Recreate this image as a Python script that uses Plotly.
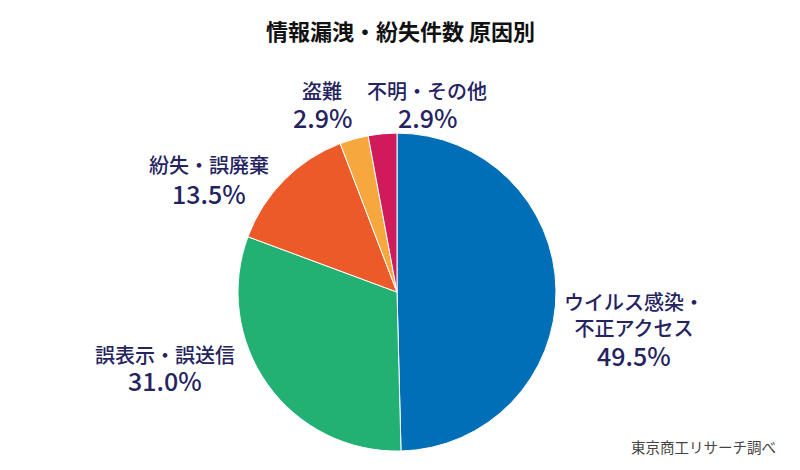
import plotly.graph_objects as go

# 情報漏洩・紛失件数 原因別 (東京商工リサーチ調べ)
causes = ['ウイルス感染・不正アクセス', '誤表示・誤送信', '紛失・誤廃棄', '盗難', '不明・その他']
label_text = ['ウイルス感染・<br>不正アクセス', '誤表示・誤送信', '紛失・誤廃棄', '盗難', '不明・その他']
shares = [49.5, 31.0, 13.5, 2.9, 2.9]
colors = ['#006FB8', '#23B073', '#EB5A28', '#F6A83E', '#CF1A5B']

# label positions (paper coords): name centre and percent centre
label_x = [0.7925, 0.206, 0.261, 0.4025, 0.534]
name_y = [0.3298, 0.2447, 0.649, 0.8085, 0.8085]
pct_y = [0.2447, 0.1915, 0.5894, 0.751, 0.751]

font_jp = 'Noto Sans CJK JP'
navy = '#25235F'

fig = go.Figure()
fig.add_trace(go.Pie(
    labels=causes,
    values=shares,
    sort=False,
    direction='clockwise',
    rotation=0,
    marker=dict(colors=colors, line=dict(color='white', width=1)),
    textinfo='none',
    hoverinfo='label+value',
    showlegend=False,
    domain=dict(x=[0.2975, 0.695], y=[0.040, 0.717]),
))

for name, val, x, ny, py in zip(label_text, shares, label_x, name_y, pct_y):
    fig.add_annotation(
        x=x, y=ny, xref='paper', yref='paper',
        xanchor='center', yanchor='middle',
        text=name, showarrow=False, align='center',
        font=dict(family=font_jp, size=20, color=navy, weight=500),
    )
    fig.add_annotation(
        x=x, y=py, xref='paper', yref='paper',
        xanchor='center', yanchor='middle',
        text=f'{val:.1f}%', showarrow=False,
        font=dict(family=font_jp, size=25, color=navy, weight=500),
    )

fig.add_annotation(
    x=0.5, y=0.936, xref='paper', yref='paper',
    xanchor='center', yanchor='middle',
    text='<b>情報漏洩・紛失件数 原因別</b>', showarrow=False,
    font=dict(family=font_jp, size=22, color='#111111'),
)
fig.add_annotation(
    x=0.9725, y=0.049, xref='paper', yref='paper',
    xanchor='right', yanchor='middle',
    text='東京商工リサーチ調べ', showarrow=False,
    font=dict(family=font_jp, size=14.5, color='#444444'),
)

fig.update_layout(
    width=800, height=470,
    margin=dict(l=0, r=0, t=0, b=0),
    paper_bgcolor='white',
    plot_bgcolor='white',
)
fig.write_html("out.html", config=dict(displayModeBar=False),
               post_script="document.body.style.margin='0';")
